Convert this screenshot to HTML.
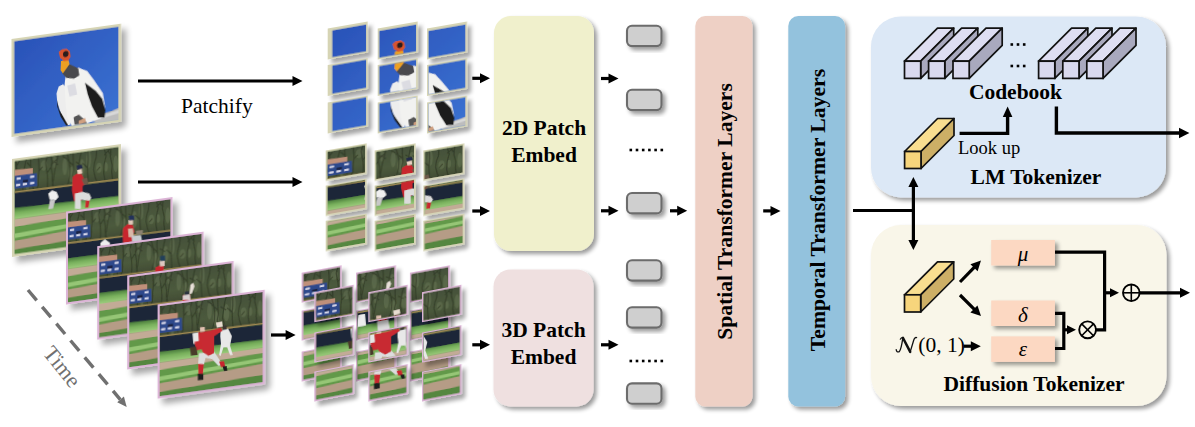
<!DOCTYPE html><html><head><meta charset="utf-8"><style>html,body{margin:0;padding:0;background:#fff;overflow:hidden}svg{display:block}</style></head><body>
<svg width="1195" height="427" viewBox="0 0 1195 427">
<defs>
<filter id="sh" x="-20%" y="-20%" width="150%" height="150%"><feGaussianBlur in="SourceAlpha" stdDeviation="3"/><feOffset dx="5" dy="6"/><feComponentTransfer><feFuncA type="linear" slope="0.35"/></feComponentTransfer><feMerge><feMergeNode/><feMergeNode in="SourceGraphic"/></feMerge></filter>
<filter id="shp" x="-30%" y="-30%" width="170%" height="170%"><feGaussianBlur in="SourceAlpha" stdDeviation="2.2"/><feOffset dx="4" dy="5"/><feComponentTransfer><feFuncA type="linear" slope="0.35"/></feComponentTransfer><feMerge><feMergeNode/><feMergeNode in="SourceGraphic"/></feMerge></filter>
<filter id="shb" x="-20%" y="-20%" width="150%" height="150%"><feGaussianBlur in="SourceAlpha" stdDeviation="2"/><feOffset dx="3" dy="3"/><feComponentTransfer><feFuncA type="linear" slope="0.4"/></feComponentTransfer><feMerge><feMergeNode/><feMergeNode in="SourceGraphic"/></feMerge></filter>
<linearGradient id="sky" x1="0" y1="0" x2="1" y2="1"><stop offset="0" stop-color="#2a52b8"/><stop offset="1" stop-color="#3b72d2"/></linearGradient>
<linearGradient id="trees" x1="0" y1="0" x2="0" y2="1"><stop offset="0" stop-color="#44503a"/><stop offset="0.6" stop-color="#4c5a3c"/><stop offset="1" stop-color="#404a34"/></linearGradient>
<pattern id="treep" patternUnits="userSpaceOnUse" width="33" height="31"><path d="M3 0 Q2 12 5 31 M9 2 Q11 14 8 31 M15 0 L14 13 Q17 22 16 31 M22 0 Q20 16 23 31 M28 3 Q30 15 27 31 M5 10 L9 6 M16 18 L21 12 M26 20 L30 16" stroke="#2c3424" stroke-width="0.8" fill="none" opacity="0.35"/><path d="M6 4 Q7 16 6 28 M19 2 Q18 14 20 26 M31 5 L30 25" stroke="#6e7c5a" stroke-width="1.4" fill="none" opacity="0.3"/></pattern>
<linearGradient id="gstripe" x1="0" y1="0" x2="0" y2="1"><stop offset="0" stop-color="#4a7c3c"/><stop offset="0.45" stop-color="#78b05c"/><stop offset="1" stop-color="#9ccc7c"/></linearGradient>
<filter id="soft" x="-5%" y="-5%" width="110%" height="110%"><feGaussianBlur stdDeviation="0.6"/></filter>
<g id="treeg" filter="url(#soft)"><ellipse cx="4" cy="18.1" rx="2.4" ry="7.0" fill="#6c7a56" opacity="0.45"/><ellipse cx="12.4" cy="23.7" rx="1.7" ry="6.7" fill="#6c7a56" opacity="0.45"/><ellipse cx="18.5" cy="21.0" rx="2.6" ry="4.5" fill="#6c7a56" opacity="0.45"/><ellipse cx="28.2" cy="7.8" rx="3.0" ry="5.0" fill="#6c7a56" opacity="0.45"/><ellipse cx="38.6" cy="5.6" rx="1.8" ry="6.5" fill="#6c7a56" opacity="0.45"/><ellipse cx="48.4" cy="11.5" rx="2.3" ry="8.2" fill="#6c7a56" opacity="0.45"/><ellipse cx="54.7" cy="19.8" rx="2.8" ry="7.3" fill="#6c7a56" opacity="0.45"/><ellipse cx="64.8" cy="15.3" rx="2.7" ry="8.4" fill="#6c7a56" opacity="0.45"/><ellipse cx="71.4" cy="8.0" rx="2.3" ry="8.4" fill="#6c7a56" opacity="0.45"/><ellipse cx="81.3" cy="17.2" rx="2.7" ry="4.7" fill="#6c7a56" opacity="0.45"/><ellipse cx="88.0" cy="17.4" rx="1.7" ry="4.3" fill="#6c7a56" opacity="0.45"/><ellipse cx="97.4" cy="15.6" rx="2.2" ry="7.9" fill="#6c7a56" opacity="0.45"/><path d="M1.471498294499487 0 L2.0 5.6 L2.1 10.9 L0.6 17.4 L-1.1 24.4 L-2.7 30 M1.5 5.5 L4.6 0.8 M11.181676550025161 0 L9.6 7.3 L8.0 14.7 L8.2 20.6 L7.9 26.1 L8.2 30 M11.2 13.0 L7.9 8.3 M15.333574637962723 0 L15.6 7.8 L15.6 15.3 L16.6 22.5 L18.1 29.3 L17.2 30 M15.3 6.9 L12.1 3.0 M23.052175418074665 0 L23.4 6.8 L23.5 12.1 L22.9 17.7 L22.6 26.5 L21.1 30 M23.1 12.9 L27.1 8.9 M31.39912345686028 0 L29.9 5.3 L30.6 11.4 L31.5 16.6 L31.8 22.9 L31.6 30 M31.4 15.5 L34.5 11.1 M35.03192842846687 0 L36.0 5.2 L35.1 10.8 L36.4 17.3 L36.2 22.6 L37.6 29.8 L38.9 30 M35.0 8.5 L41.0 3.4 M41.89466077037187 0 L40.6 5.3 L38.9 13.0 L37.7 21.3 L36.5 27.4 L36.9 30 M41.9 9.1 L36.8 4.6 M50.70137749103084 0 L52.1 5.2 L53.5 13.3 L53.1 21.5 L51.7 28.1 L50.1 30 M50.7 5.1 L46.4 1.7 M56.382825078875925 0 L56.5 7.3 L56.9 16.1 L55.9 21.3 L56.4 27.8 L56.7 30 M56.4 11.6 L50.8 5.6 M64.39114809158879 0 L63.0 5.3 L62.1 11.7 L60.9 20.0 L62.5 25.1 L61.2 30 M64.4 12.7 L59.1 8.8 M70.78434410520582 0 L70.9 8.4 L70.3 17.0 L70.5 22.9 L71.0 29.9 L72.0 30 M70.8 16.1 L65.4 10.7 M79.15102299671908 0 L78.6 7.1 L76.9 12.2 L76.1 18.3 L77.7 26.1 L79.3 30 M79.2 19.8 L82.4 16.5 M86.36433689516468 0 L88.1 6.9 L86.3 14.4 L85.8 23.0 L87.0 30 M86.4 5.9 L91.7 0.7 M92.7988205890378 0 L92.2 8.2 L93.9 16.4 L93.5 22.9 L94.3 30 M92.8 6.7 L89.7 1.9" stroke="#262d1e" stroke-width="1.1" fill="none" opacity="0.55"/></g>
<symbol id="bird" viewBox="0 0 100 88" preserveAspectRatio="none">
<rect width="100" height="88" fill="url(#sky)"/>
<path d="M72.2 82.5 L93.5 79.1 L100.9 77.0 L102.0 92.9 L80.7 90.0 Z" fill="#bdbdbd"/>
<path d="M74 84 L100 79 L100 82 L76 86 Z" fill="#d8d8d8"/>
<path d="M42.8 49.0 L46.7 47.4 L50.9 51.2 L53.1 65.1 L54.1 86.3 L50.9 86.9 L45.6 76.7 L41.4 63.5 L40.7 55.0 Z" fill="#ededed"/>
<path d="M41.4 61.4 L42.8 70.0 L47.7 79.1 L52.0 87.1 L49.9 86.8 L44.6 77.6 L41.4 67.7 Z" fill="#1e1e1e"/>
<path d="M49.9 35.3 L61.6 33.7 L70.1 38.1 L76.4 47.3 L85.0 61.1 L87.1 74.0 L86.0 83.4 L78.6 85.5 L70.1 87.5 L61.6 87.3 L55.2 87.5 L50.9 79.6 L49.2 64.6 L48.4 47.7 Z" fill="#f2f2f0"/>
<path d="M50.9 49.1 L58.4 48.0 L60.5 58.8 L53.1 59.9 Z" fill="#dcdce2"/>
<path d="M57 80 L62 78 L67 83 L70 87.3 L58 87.1 Z" fill="#555"/>

<path d="M67.9 48.7 L78.1 57.7 L84.5 66.3 L87.5 77.3 L86.7 84.1 L80.3 83.6 L74.7 72.3 L70.5 60.2 Z" fill="#1c1c1c"/>
<path d="M45.6 30.5 L53.1 29.0 L61.6 34.3 L62.6 41.2 L57.3 43.6 L49.9 41.6 L46.3 36.9 Z" fill="#4a4a4e"/>
<path d="M45.0 25.1 L52.0 24.6 L53.1 29.0 L49.9 33.2 L46.7 36.9 L44.6 33.5 Z" fill="#eca020"/>
<path d="M42.8 16.4 L45.6 14.1 L50.5 14.3 L53.5 17.2 L54.1 22.2 L52.0 25.5 L47.7 25.5 L44.1 21.8 Z" fill="#d8542e"/>
<ellipse cx="49.5" cy="19" rx="2.6" ry="3" fill="#2a1a1a"/>
<path d="M62 84 L68 82 L69 86 L62 87 Z" fill="#d0a080"/>
</symbol>
<symbol id="bb1" viewBox="0 0 100 88" preserveAspectRatio="none">
<rect width="100" height="88" fill="#55853f"/>
<rect width="100" height="31" fill="url(#trees)"/>
<use href="#treeg"/>
<path d="M0 8.3 L17.6 9.1 L17.6 15.2 L0 14.6 Z" fill="#c0907a"/>
<path d="M0 13.9 L21.6 14.1 L21.9 26.5 L0 26.2 Z" fill="#2f4a8c"/>
<rect x="2" y="16" width="4" height="2" fill="#dde"/><rect x="15" y="16" width="4" height="2" fill="#dde"/>
<rect x="8" y="19" width="5" height="2.5" fill="#1a2040"/>
<rect x="1.5" y="22" width="4" height="2" fill="#dde"/><rect x="8" y="22" width="4" height="2" fill="#dde"/><rect x="15" y="22" width="4" height="2" fill="#dde"/>
<path d="M0 28.7 L100 30.1 L100 31.7 L0 30.3 Z" fill="#a08a52"/>
<path d="M0 30.3 L100 31.7 L100 46.5 L0 44.5 Z" fill="#1e2838"/>
<path d="M0 44.5 L100 46.5 L100 54.3 L0 55 Z" fill="url(#gstripe)"/>
<path d="M0 55 L100 54.3 L100 59.7 L0 62.3 Z" fill="#c2ab96"/>
<path d="M0 62.3 L100 59.7 L100 69.9 L0 75.4 Z" fill="#62994a"/>
<path d="M0 68.7 L100 64 L100 67.5 L0 72.8 Z" fill="#96c676"/>
<path d="M0 75.4 L100 69.9 L100 80.8 L0 83.7 Z" fill="#b59c86"/>
<path d="M0 83.7 L100 80.8 L100 88 L0 88 Z" fill="#558740"/>
<path d="M32.6 35.1 L36.2 32.7 L40.3 34.5 L42.4 39.6 L39.5 42.4 L33.8 40.8 Z" fill="#f0f0f0"/>
<path d="M34.3 40.9 L39.1 42.0 L37.0 50.0 L32.6 49.8 Z" fill="#c8c8c8"/>
<path d="M56.0 22.3 L60.5 19.7 L64.6 21.0 L67.0 26.2 L69.5 30.5 L65.4 32.3 L65.4 39.5 L64.6 45.8 L57.3 45.6 L55.3 35.0 Z" fill="#c8282e"/>
<path d="M58.1 38.5 L65.4 37.9 L71.9 40.4 L73.8 44.6 L71.9 47.6 L67.8 46.2 L63.8 44.9 L63.8 53.6 L58.1 52.9 Z" fill="#dcdcdc"/>
<path d="M68.6 46.3 L72.2 47.1 L71.1 53.8 L67.8 52.9 Z" fill="#c8282e"/>
<path d="M64.6 25.8 L69.9 25.0 L71.1 30.7 L67.0 31.7 Z" fill="#6a5a48"/>
<path d="M60.2 16.1 L64.6 15.8 L65.1 20.3 L60.9 20.5 Z" fill="#e8d0c0"/>
<path d="M59.7 12.4 L64.6 12.0 L65.7 15.6 L60.5 16.5 Z" fill="#222a48"/>
</symbol>
<symbol id="bb2" viewBox="0 0 100 88" preserveAspectRatio="none">
<rect width="100" height="88" fill="#55853f"/>
<rect width="100" height="31" fill="url(#trees)"/>
<use href="#treeg"/>
<path d="M0 8.3 L17.6 9.1 L17.6 15.2 L0 14.6 Z" fill="#c0907a"/>
<path d="M0 13.9 L21.6 14.1 L21.9 26.5 L0 26.2 Z" fill="#2f4a8c"/>
<rect x="2" y="16" width="4" height="2" fill="#dde"/><rect x="15" y="16" width="4" height="2" fill="#dde"/>
<rect x="8" y="19" width="5" height="2.5" fill="#1a2040"/>
<rect x="1.5" y="22" width="4" height="2" fill="#dde"/><rect x="8" y="22" width="4" height="2" fill="#dde"/><rect x="15" y="22" width="4" height="2" fill="#dde"/>
<path d="M0 28.7 L100 30.1 L100 31.7 L0 30.3 Z" fill="#a08a52"/>
<path d="M0 30.3 L100 31.7 L100 46.5 L0 44.5 Z" fill="#1e2838"/>
<path d="M0 44.5 L100 46.5 L100 54.3 L0 55 Z" fill="url(#gstripe)"/>
<path d="M0 55 L100 54.3 L100 59.7 L0 62.3 Z" fill="#c2ab96"/>
<path d="M0 62.3 L100 59.7 L100 69.9 L0 75.4 Z" fill="#62994a"/>
<path d="M0 68.7 L100 64 L100 67.5 L0 72.8 Z" fill="#96c676"/>
<path d="M0 75.4 L100 69.9 L100 80.8 L0 83.7 Z" fill="#b59c86"/>
<path d="M0 83.7 L100 80.8 L100 88 L0 88 Z" fill="#558740"/>
<path d="M31.9 33.5 L36.0 30.6 L40.8 34.8 L40.8 38.2 L31.9 37.0 Z" fill="#eeeeee"/>
<path d="M53.8 22.0 L58.6 18.5 L63.4 20.5 L64.8 27.0 L62.7 32.3 L64.1 36.6 L53.8 37.3 L53.4 29.6 Z" fill="#c8282e"/>
<path d="M58.6 23.3 L63.4 24.0 L64.1 32.4 L59.3 31.8 Z" fill="#d8b8a8"/>
<path d="M66.2 26.5 L73.0 26.7 L73.0 30.9 L66.6 30.3 Z" fill="#8a8070"/>
<path d="M62.0 30.8 L71.0 31.3 L72.3 37.7 L62.7 37.1 Z" fill="#c8ccd0"/>
<path d="M58.9 14.8 L63.4 15.0 L63.4 19.8 L59.3 19.6 Z" fill="#e0c8b8"/>
<path d="M59.3 10.9 L64.1 10.9 L64.8 15.6 L59.7 15.4 Z" fill="#23305a"/>
<path d="M55 37 L63 37 L62 50 L56 50 Z" fill="#d0d0d0"/>
</symbol>
<symbol id="bb3" viewBox="0 0 100 88" preserveAspectRatio="none">
<rect width="100" height="88" fill="#55853f"/>
<rect width="100" height="31" fill="url(#trees)"/>
<use href="#treeg"/>
<path d="M0 8.3 L17.6 9.1 L17.6 15.2 L0 14.6 Z" fill="#c0907a"/>
<path d="M0 13.9 L21.6 14.1 L21.9 26.5 L0 26.2 Z" fill="#2f4a8c"/>
<rect x="2" y="16" width="4" height="2" fill="#dde"/><rect x="15" y="16" width="4" height="2" fill="#dde"/>
<rect x="8" y="19" width="5" height="2.5" fill="#1a2040"/>
<rect x="1.5" y="22" width="4" height="2" fill="#dde"/><rect x="8" y="22" width="4" height="2" fill="#dde"/><rect x="15" y="22" width="4" height="2" fill="#dde"/>
<path d="M0 28.7 L100 30.1 L100 31.7 L0 30.3 Z" fill="#a08a52"/>
<path d="M0 30.3 L100 31.7 L100 46.5 L0 44.5 Z" fill="#1e2838"/>
<path d="M0 44.5 L100 46.5 L100 54.3 L0 55 Z" fill="url(#gstripe)"/>
<path d="M0 55 L100 54.3 L100 59.7 L0 62.3 Z" fill="#c2ab96"/>
<path d="M0 62.3 L100 59.7 L100 69.9 L0 75.4 Z" fill="#62994a"/>
<path d="M0 68.7 L100 64 L100 67.5 L0 72.8 Z" fill="#96c676"/>
<path d="M0 75.4 L100 69.9 L100 80.8 L0 83.7 Z" fill="#b59c86"/>
<path d="M0 83.7 L100 80.8 L100 88 L0 88 Z" fill="#558740"/>
<path d="M54.9 26.7 L59.0 25.2 L63.1 26.1 L62.8 31.3 L64 42 L55 42 L54.6 30.8 Z" fill="#c8282e"/>
<path d="M59.0 20.8 L63.8 21.0 L63.8 26.6 L59.3 26.4 Z" fill="#dcc8c0"/>
<path d="M59.3 16.3 L64.2 16.3 L64.5 21.5 L59.7 21.2 Z" fill="#24405a"/>
<path d="M55 42 L65 42 L66 55 L56 55 Z" fill="#d8d8d8"/>
<path d="M33 32 L39 32 L39 44 L33 44 Z" fill="#e8e8e8"/>
</symbol>
<symbol id="bb4" viewBox="0 0 100 88" preserveAspectRatio="none">
<rect width="100" height="88" fill="#55853f"/>
<rect width="100" height="31" fill="url(#trees)"/>
<use href="#treeg"/>
<path d="M0 8.3 L17.6 9.1 L17.6 15.2 L0 14.6 Z" fill="#c0907a"/>
<path d="M0 13.9 L21.6 14.1 L21.9 26.5 L0 26.2 Z" fill="#2f4a8c"/>
<rect x="2" y="16" width="4" height="2" fill="#dde"/><rect x="15" y="16" width="4" height="2" fill="#dde"/>
<rect x="8" y="19" width="5" height="2.5" fill="#1a2040"/>
<rect x="1.5" y="22" width="4" height="2" fill="#dde"/><rect x="8" y="22" width="4" height="2" fill="#dde"/><rect x="15" y="22" width="4" height="2" fill="#dde"/>
<path d="M0 28.7 L100 30.1 L100 31.7 L0 30.3 Z" fill="#a08a52"/>
<path d="M0 30.3 L100 31.7 L100 46.5 L0 44.5 Z" fill="#1e2838"/>
<path d="M0 44.5 L100 46.5 L100 54.3 L0 55 Z" fill="url(#gstripe)"/>
<path d="M0 55 L100 54.3 L100 59.7 L0 62.3 Z" fill="#c2ab96"/>
<path d="M0 62.3 L100 59.7 L100 69.9 L0 75.4 Z" fill="#62994a"/>
<path d="M0 68.7 L100 64 L100 67.5 L0 72.8 Z" fill="#96c676"/>
<path d="M0 75.4 L100 69.9 L100 80.8 L0 83.7 Z" fill="#b59c86"/>
<path d="M0 83.7 L100 80.8 L100 88 L0 88 Z" fill="#558740"/>
<path d="M59.9 15.5 L62.6 14.1 L63.7 17.7 L61.2 24.2 L58.8 24.5 Z" fill="#e8e0d8"/>
<path d="M52.3 25.0 L59.2 24.6 L60 44 L52 44 Z" fill="#c8282e"/>
<path d="M54.1 21.8 L58.2 21.7 L58.5 25.5 L54.4 25.5 Z" fill="#2a3040"/>
<path d="M52.3 25.0 L59.2 24.6 L59.9 30.5 L52.3 29.4 Z" fill="#d8d0d0"/>
<path d="M51 44 L61 44 L63 58 L52 58 Z" fill="#dcdcdc"/>
<path d="M34 33 L40 33 L41 46 L33 46 Z" fill="#ececec"/>
</symbol>
<symbol id="bb5" viewBox="0 0 100 88" preserveAspectRatio="none">
<rect width="100" height="88" fill="#55853f"/>
<rect width="100" height="31" fill="url(#trees)"/>
<use href="#treeg"/>
<path d="M0 8.3 L17.6 9.1 L17.6 15.2 L0 14.6 Z" fill="#c0907a"/>
<path d="M0 13.9 L21.6 14.1 L21.9 26.5 L0 26.2 Z" fill="#2f4a8c"/>
<rect x="2" y="16" width="4" height="2" fill="#dde"/><rect x="15" y="16" width="4" height="2" fill="#dde"/>
<rect x="8" y="19" width="5" height="2.5" fill="#1a2040"/>
<rect x="1.5" y="22" width="4" height="2" fill="#dde"/><rect x="8" y="22" width="4" height="2" fill="#dde"/><rect x="15" y="22" width="4" height="2" fill="#dde"/>
<path d="M0 28.7 L100 30.1 L100 31.7 L0 30.3 Z" fill="#a08a52"/>
<path d="M0 30.3 L100 31.7 L100 46.5 L0 44.5 Z" fill="#1e2838"/>
<path d="M0 44.5 L100 46.5 L100 54.3 L0 55 Z" fill="url(#gstripe)"/>
<path d="M0 55 L100 54.3 L100 59.7 L0 62.3 Z" fill="#c2ab96"/>
<path d="M0 62.3 L100 59.7 L100 69.9 L0 75.4 Z" fill="#62994a"/>
<path d="M0 68.7 L100 64 L100 67.5 L0 72.8 Z" fill="#96c676"/>
<path d="M0 75.4 L100 69.9 L100 80.8 L0 83.7 Z" fill="#b59c86"/>
<path d="M0 83.7 L100 80.8 L100 88 L0 88 Z" fill="#558740"/>
<path d="M31.9 31.0 L38.2 30.6 L39.5 36.6 L37.3 42.7 L32.8 41.2 Z" fill="#e6e6e6"/>
<path d="M59.1 32.0 L66.4 31.2 L70.0 39.0 L68.2 47.9 L70.9 57.4 L68.2 57.0 L65.5 49.3 L61.9 48.8 L59.1 56.7 L57.7 55.6 L59.5 44.9 L58.8 37.5 Z" fill="#e8e8e8"/>
<path d="M61.0 27.7 L64.6 27.7 L65.0 31.4 L61.3 31.4 Z" fill="#3a3430"/>
<path d="M38.2 51.1 L52.8 51.6 L59.1 62.2 L61.3 65.6 L57.0 66.1 L51.0 58.7 L44.6 56.5 L42.8 63.0 L37.3 62.3 Z" fill="#dddddd"/>
<path d="M37.3 61.5 L42.8 62.3 L41.9 72.0 L37.7 71.5 Z" fill="#c8282e"/>
<path d="M37.0 71.0 L42.4 71.8 L42.4 77.6 L37.0 77.4 Z" fill="#1e1e1e"/>
<path d="M57.7 62.0 L62.4 62.1 L63.7 68.3 L59.5 67.7 Z" fill="#c8282e"/>
<path d="M61.0 67.0 L65.0 67.2 L65.7 72.2 L62.4 71.8 Z" fill="#1e1e1e"/>
<path d="M37.3 30.8 L49.1 30.6 L59.1 29.3 L61.0 32.3 L52.8 36.6 L52.8 53.1 L47.3 55.1 L41.9 50.7 L38.2 41.9 Z" fill="#c82a30"/>
<path d="M33.7 39.5 L39.1 39.3 L41.0 47.8 L35.5 48.0 Z" fill="#c82a30"/>
<path d="M29.2 44.3 L35.5 44.3 L37.0 52.7 L30.4 52.7 Z" fill="#4a3a2c"/>
<path d="M39.1 26.0 L43.7 26.2 L43.9 30.8 L39.5 30.8 Z" fill="#e0c0b0"/>
<path d="M54.6 23.7 L60.6 23.5 L61.3 28.3 L55.5 28.8 Z" fill="#e8dcd0"/>
</symbol>
</defs>
<g transform="matrix(1 -0.14 0 1 11.5 39)" filter="url(#sh)">
<rect width="109.5" height="98" fill="#d6d4b4"/>
<svg x="2.5" y="2.5" width="104.5" height="93.0" viewBox="0 0 100 88" preserveAspectRatio="none"><use href="#bird" width="100" height="88"/></svg>
</g>
<g transform="matrix(1 -0.137 0 1 12 159)" filter="url(#sh)">
<rect width="109" height="98" fill="#d6d4b4"/>
<svg x="2.5" y="2.5" width="104.0" height="93.0" viewBox="0 0 100 88" preserveAspectRatio="none"><use href="#bb1" width="100" height="88"/></svg>
</g>
<g transform="matrix(1 -0.137 0 1 66 211.6)" filter="url(#sh)">
<rect width="106.5" height="93" fill="#dcb4d6"/>
<svg x="2" y="2" width="102.5" height="89" viewBox="0 0 100 88" preserveAspectRatio="none"><use href="#bb2" width="100" height="88"/></svg>
</g>
<g transform="matrix(1 -0.137 0 1 97.2 246.2)" filter="url(#sh)">
<rect width="106.5" height="93.5" fill="#dcb4d6"/>
<svg x="2" y="2" width="102.5" height="89.5" viewBox="0 0 100 88" preserveAspectRatio="none"><use href="#bb3" width="100" height="88"/></svg>
</g>
<g transform="matrix(1 -0.137 0 1 127.2 275.5)" filter="url(#sh)">
<rect width="106.5" height="94" fill="#dcb4d6"/>
<svg x="2" y="2" width="102.5" height="90" viewBox="0 0 100 88" preserveAspectRatio="none"><use href="#bb4" width="100" height="88"/></svg>
</g>
<g transform="matrix(1 -0.137 0 1 157.6 304.4)" filter="url(#sh)">
<rect width="107.2" height="94.3" fill="#dcb4d6"/>
<svg x="2" y="2" width="103.2" height="90.3" viewBox="0 0 100 88" preserveAspectRatio="none"><use href="#bb5" width="100" height="88"/></svg>
</g>
<line x1="28" y1="290" x2="120.3" y2="399.6" stroke="#707070" stroke-width="3.4" stroke-dasharray="13.5 8.5"/>
<polygon points="126.7,407 117.2,402.2 123.9,396.6" fill="#707070"/>
<text x="0" y="0" transform="translate(42,353.5) rotate(51)" font-family='"Liberation Serif", serif' font-size="22" fill="#707070">Time</text>
<line x1="138" y1="81" x2="293.5" y2="81" stroke="#000" stroke-width="3.2"/>
<polygon points="302.5,81 292.5,76.0 292.5,86.0" fill="#000"/>
<text x="181" y="113" font-family='"Liberation Serif", serif' font-size="21.5">Patchify</text>
<line x1="138" y1="182" x2="293.5" y2="182" stroke="#000" stroke-width="3.2"/>
<polygon points="302.5,182 292.5,177.0 292.5,187.0" fill="#000"/>
<line x1="271" y1="335" x2="286.6" y2="335" stroke="#000" stroke-width="3.2"/>
<polygon points="295.6,335 285.6,330.0 285.6,340.0" fill="#000"/>
<g transform="matrix(1 -0.175 0 1 327.7 28.5)" filter="url(#shp)">
<rect width="40" height="31" fill="#d6d4b4"/>
<svg x="1.6" y="1.6" width="36.8" height="27.8" viewBox="-2.500 -1.000 33.333 29.333" preserveAspectRatio="none"><use href="#bird" width="100" height="88"/></svg>
</g>
<g transform="matrix(1 -0.175 0 1 377.7 28.5)" filter="url(#shp)">
<rect width="40" height="31" fill="#d6d4b4"/>
<svg x="1.6" y="1.6" width="36.8" height="27.8" viewBox="30.833 -1.000 33.333 29.333" preserveAspectRatio="none"><use href="#bird" width="100" height="88"/></svg>
</g>
<g transform="matrix(1 -0.175 0 1 427.0 28.5)" filter="url(#shp)">
<rect width="40" height="31" fill="#d6d4b4"/>
<svg x="1.6" y="1.6" width="36.8" height="27.8" viewBox="64.167 -1.000 33.333 29.333" preserveAspectRatio="none"><use href="#bird" width="100" height="88"/></svg>
</g>
<g transform="matrix(1 -0.175 0 1 327.7 65.0)" filter="url(#shp)">
<rect width="40" height="31" fill="#d6d4b4"/>
<svg x="1.6" y="1.6" width="36.8" height="27.8" viewBox="-2.500 28.333 33.333 29.333" preserveAspectRatio="none"><use href="#bird" width="100" height="88"/></svg>
</g>
<g transform="matrix(1 -0.175 0 1 377.7 65.0)" filter="url(#shp)">
<rect width="40" height="31" fill="#d6d4b4"/>
<svg x="1.6" y="1.6" width="36.8" height="27.8" viewBox="30.833 28.333 33.333 29.333" preserveAspectRatio="none"><use href="#bird" width="100" height="88"/></svg>
</g>
<g transform="matrix(1 -0.175 0 1 427.0 65.0)" filter="url(#shp)">
<rect width="40" height="31" fill="#d6d4b4"/>
<svg x="1.6" y="1.6" width="36.8" height="27.8" viewBox="64.167 28.333 33.333 29.333" preserveAspectRatio="none"><use href="#bird" width="100" height="88"/></svg>
</g>
<g transform="matrix(1 -0.175 0 1 327.7 102.5)" filter="url(#shp)">
<rect width="40" height="31" fill="#d6d4b4"/>
<svg x="1.6" y="1.6" width="36.8" height="27.8" viewBox="-2.500 57.667 33.333 29.333" preserveAspectRatio="none"><use href="#bird" width="100" height="88"/></svg>
</g>
<g transform="matrix(1 -0.175 0 1 377.7 102.5)" filter="url(#shp)">
<rect width="40" height="31" fill="#d6d4b4"/>
<svg x="1.6" y="1.6" width="36.8" height="27.8" viewBox="30.833 57.667 33.333 29.333" preserveAspectRatio="none"><use href="#bird" width="100" height="88"/></svg>
</g>
<g transform="matrix(1 -0.175 0 1 427.0 102.5)" filter="url(#shp)">
<rect width="40" height="31" fill="#d6d4b4"/>
<svg x="1.6" y="1.6" width="36.8" height="27.8" viewBox="64.167 57.667 33.333 29.333" preserveAspectRatio="none"><use href="#bird" width="100" height="88"/></svg>
</g>
<g transform="matrix(1 -0.175 0 1 325.7 150.5)" filter="url(#shp)">
<rect width="41" height="30.5" fill="#d6d4b4"/>
<svg x="1.6" y="1.6" width="37.8" height="27.3" viewBox="0.000 0.000 33.333 29.333" preserveAspectRatio="none"><use href="#bb1" width="100" height="88"/></svg>
</g>
<g transform="matrix(1 -0.175 0 1 374.6 150.5)" filter="url(#shp)">
<rect width="41" height="30.5" fill="#d6d4b4"/>
<svg x="1.6" y="1.6" width="37.8" height="27.3" viewBox="33.333 0.000 33.333 29.333" preserveAspectRatio="none"><use href="#bb1" width="100" height="88"/></svg>
</g>
<g transform="matrix(1 -0.175 0 1 423.3 150.5)" filter="url(#shp)">
<rect width="41" height="30.5" fill="#d6d4b4"/>
<svg x="1.6" y="1.6" width="37.8" height="27.3" viewBox="66.667 0.000 33.333 29.333" preserveAspectRatio="none"><use href="#bb1" width="100" height="88"/></svg>
</g>
<g transform="matrix(1 -0.175 0 1 325.7 185.6)" filter="url(#shp)">
<rect width="41" height="30.5" fill="#d6d4b4"/>
<svg x="1.6" y="1.6" width="37.8" height="27.3" viewBox="0.000 29.333 33.333 29.333" preserveAspectRatio="none"><use href="#bb1" width="100" height="88"/></svg>
</g>
<g transform="matrix(1 -0.175 0 1 374.6 185.6)" filter="url(#shp)">
<rect width="41" height="30.5" fill="#d6d4b4"/>
<svg x="1.6" y="1.6" width="37.8" height="27.3" viewBox="33.333 29.333 33.333 29.333" preserveAspectRatio="none"><use href="#bb1" width="100" height="88"/></svg>
</g>
<g transform="matrix(1 -0.175 0 1 423.3 185.6)" filter="url(#shp)">
<rect width="41" height="30.5" fill="#d6d4b4"/>
<svg x="1.6" y="1.6" width="37.8" height="27.3" viewBox="66.667 29.333 33.333 29.333" preserveAspectRatio="none"><use href="#bb1" width="100" height="88"/></svg>
</g>
<g transform="matrix(1 -0.175 0 1 325.7 220.8)" filter="url(#shp)">
<rect width="41" height="30.5" fill="#d6d4b4"/>
<svg x="1.6" y="1.6" width="37.8" height="27.3" viewBox="0.000 58.667 33.333 29.333" preserveAspectRatio="none"><use href="#bb1" width="100" height="88"/></svg>
</g>
<g transform="matrix(1 -0.175 0 1 374.6 220.8)" filter="url(#shp)">
<rect width="41" height="30.5" fill="#d6d4b4"/>
<svg x="1.6" y="1.6" width="37.8" height="27.3" viewBox="33.333 58.667 33.333 29.333" preserveAspectRatio="none"><use href="#bb1" width="100" height="88"/></svg>
</g>
<g transform="matrix(1 -0.175 0 1 423.3 220.8)" filter="url(#shp)">
<rect width="41" height="30.5" fill="#d6d4b4"/>
<svg x="1.6" y="1.6" width="37.8" height="27.3" viewBox="66.667 58.667 33.333 29.333" preserveAspectRatio="none"><use href="#bb1" width="100" height="88"/></svg>
</g>
<g transform="matrix(1 -0.186 0 1 301.6 272.7)" filter="url(#shp)">
<rect width="40" height="30" fill="#dcb4d6"/>
<svg x="1.6" y="1.6" width="36.8" height="26.8" viewBox="0.000 0.000 33.333 29.333" preserveAspectRatio="none"><use href="#bb4" width="100" height="88"/></svg>
</g>
<g transform="matrix(1 -0.186 0 1 356.0 272.7)" filter="url(#shp)">
<rect width="40" height="30" fill="#dcb4d6"/>
<svg x="1.6" y="1.6" width="36.8" height="26.8" viewBox="33.333 0.000 33.333 29.333" preserveAspectRatio="none"><use href="#bb4" width="100" height="88"/></svg>
</g>
<g transform="matrix(1 -0.186 0 1 409.9 272.7)" filter="url(#shp)">
<rect width="40" height="30" fill="#dcb4d6"/>
<svg x="1.6" y="1.6" width="36.8" height="26.8" viewBox="66.667 0.000 33.333 29.333" preserveAspectRatio="none"><use href="#bb4" width="100" height="88"/></svg>
</g>
<g transform="matrix(1 -0.186 0 1 301.6 310.6)" filter="url(#shp)">
<rect width="40" height="30" fill="#dcb4d6"/>
<svg x="1.6" y="1.6" width="36.8" height="26.8" viewBox="0.000 29.333 33.333 29.333" preserveAspectRatio="none"><use href="#bb4" width="100" height="88"/></svg>
</g>
<g transform="matrix(1 -0.186 0 1 356.0 310.6)" filter="url(#shp)">
<rect width="40" height="30" fill="#dcb4d6"/>
<svg x="1.6" y="1.6" width="36.8" height="26.8" viewBox="33.333 29.333 33.333 29.333" preserveAspectRatio="none"><use href="#bb4" width="100" height="88"/></svg>
</g>
<g transform="matrix(1 -0.186 0 1 409.9 310.6)" filter="url(#shp)">
<rect width="40" height="30" fill="#dcb4d6"/>
<svg x="1.6" y="1.6" width="36.8" height="26.8" viewBox="66.667 29.333 33.333 29.333" preserveAspectRatio="none"><use href="#bb4" width="100" height="88"/></svg>
</g>
<g transform="matrix(1 -0.186 0 1 301.6 351.6)" filter="url(#shp)">
<rect width="40" height="30" fill="#dcb4d6"/>
<svg x="1.6" y="1.6" width="36.8" height="26.8" viewBox="0.000 58.667 33.333 29.333" preserveAspectRatio="none"><use href="#bb4" width="100" height="88"/></svg>
</g>
<g transform="matrix(1 -0.186 0 1 356.0 351.6)" filter="url(#shp)">
<rect width="40" height="30" fill="#dcb4d6"/>
<svg x="1.6" y="1.6" width="36.8" height="26.8" viewBox="33.333 58.667 33.333 29.333" preserveAspectRatio="none"><use href="#bb4" width="100" height="88"/></svg>
</g>
<g transform="matrix(1 -0.186 0 1 409.9 351.6)" filter="url(#shp)">
<rect width="40" height="30" fill="#dcb4d6"/>
<svg x="1.6" y="1.6" width="36.8" height="26.8" viewBox="66.667 58.667 33.333 29.333" preserveAspectRatio="none"><use href="#bb4" width="100" height="88"/></svg>
</g>
<g transform="matrix(1 -0.19 0 1 314.3 292.2)" filter="url(#shp)">
<rect width="39.5" height="30" fill="#dcb4d6"/>
<svg x="1.6" y="1.6" width="36.3" height="26.8" viewBox="0.000 0.000 33.333 29.333" preserveAspectRatio="none"><use href="#bb5" width="100" height="88"/></svg>
</g>
<g transform="matrix(1 -0.19 0 1 368.3 292.2)" filter="url(#shp)">
<rect width="39.5" height="30" fill="#dcb4d6"/>
<svg x="1.6" y="1.6" width="36.3" height="26.8" viewBox="33.333 0.000 33.333 29.333" preserveAspectRatio="none"><use href="#bb5" width="100" height="88"/></svg>
</g>
<g transform="matrix(1 -0.19 0 1 422.0 292.2)" filter="url(#shp)">
<rect width="39.5" height="30" fill="#dcb4d6"/>
<svg x="1.6" y="1.6" width="36.3" height="26.8" viewBox="66.667 0.000 33.333 29.333" preserveAspectRatio="none"><use href="#bb5" width="100" height="88"/></svg>
</g>
<g transform="matrix(1 -0.19 0 1 314.3 332.6)" filter="url(#shp)">
<rect width="39.5" height="30" fill="#dcb4d6"/>
<svg x="1.6" y="1.6" width="36.3" height="26.8" viewBox="0.000 29.333 33.333 29.333" preserveAspectRatio="none"><use href="#bb5" width="100" height="88"/></svg>
</g>
<g transform="matrix(1 -0.19 0 1 368.3 332.6)" filter="url(#shp)">
<rect width="39.5" height="30" fill="#dcb4d6"/>
<svg x="1.6" y="1.6" width="36.3" height="26.8" viewBox="33.333 29.333 33.333 29.333" preserveAspectRatio="none"><use href="#bb5" width="100" height="88"/></svg>
</g>
<g transform="matrix(1 -0.19 0 1 422.0 332.6)" filter="url(#shp)">
<rect width="39.5" height="30" fill="#dcb4d6"/>
<svg x="1.6" y="1.6" width="36.3" height="26.8" viewBox="66.667 29.333 33.333 29.333" preserveAspectRatio="none"><use href="#bb5" width="100" height="88"/></svg>
</g>
<g transform="matrix(1 -0.19 0 1 314.3 371.6)" filter="url(#shp)">
<rect width="39.5" height="30" fill="#dcb4d6"/>
<svg x="1.6" y="1.6" width="36.3" height="26.8" viewBox="0.000 58.667 33.333 29.333" preserveAspectRatio="none"><use href="#bb5" width="100" height="88"/></svg>
</g>
<g transform="matrix(1 -0.19 0 1 368.3 371.6)" filter="url(#shp)">
<rect width="39.5" height="30" fill="#dcb4d6"/>
<svg x="1.6" y="1.6" width="36.3" height="26.8" viewBox="33.333 58.667 33.333 29.333" preserveAspectRatio="none"><use href="#bb5" width="100" height="88"/></svg>
</g>
<g transform="matrix(1 -0.19 0 1 422.0 371.6)" filter="url(#shp)">
<rect width="39.5" height="30" fill="#dcb4d6"/>
<svg x="1.6" y="1.6" width="36.3" height="26.8" viewBox="66.667 58.667 33.333 29.333" preserveAspectRatio="none"><use href="#bb5" width="100" height="88"/></svg>
</g>
<line x1="472.3" y1="78.3" x2="481" y2="78.3" stroke="#000" stroke-width="3.2"/>
<polygon points="490,78.3 480,73.3 480,83.3" fill="#000"/>
<line x1="472.3" y1="211" x2="481" y2="211" stroke="#000" stroke-width="3.2"/>
<polygon points="490,211 480,206.0 480,216.0" fill="#000"/>
<line x1="472.3" y1="344.8" x2="481" y2="344.8" stroke="#000" stroke-width="3.2"/>
<polygon points="490,344.8 480,339.8 480,349.8" fill="#000"/>
<rect x="494" y="16" width="100" height="235" rx="17" fill="#f0f0cc" filter="url(#shb)"/>
<rect x="493.5" y="269.4" width="100" height="137" rx="17" fill="#efe0e0" filter="url(#shb)"/>
<text x="544" y="134.7" text-anchor="middle" font-family='"Liberation Serif", serif' font-weight="bold" font-size="21.5">2D Patch</text>
<text x="544" y="162" text-anchor="middle" font-family='"Liberation Serif", serif' font-weight="bold" font-size="21.5">Embed</text>
<text x="543.5" y="336.8" text-anchor="middle" font-family='"Liberation Serif", serif' font-weight="bold" font-size="21.5">3D Patch</text>
<text x="543.5" y="364" text-anchor="middle" font-family='"Liberation Serif", serif' font-weight="bold" font-size="21.5">Embed</text>
<line x1="601" y1="78.5" x2="609.5" y2="78.5" stroke="#000" stroke-width="3.2"/>
<polygon points="618.5,78.5 608.5,73.5 608.5,83.5" fill="#000"/>
<line x1="601" y1="210.8" x2="609.5" y2="210.8" stroke="#000" stroke-width="3.2"/>
<polygon points="618.5,210.8 608.5,205.8 608.5,215.8" fill="#000"/>
<line x1="601" y1="344.8" x2="609.5" y2="344.8" stroke="#000" stroke-width="3.2"/>
<polygon points="618.5,344.8 608.5,339.8 608.5,349.8" fill="#000"/>
<rect x="627" y="25.7" width="34.5" height="20.4" rx="5" fill="#cfcfcf" stroke="#6c6c6c" stroke-width="2.1" filter="url(#shb)"/>
<rect x="627" y="89.7" width="34.5" height="20.4" rx="5" fill="#cfcfcf" stroke="#6c6c6c" stroke-width="2.1" filter="url(#shb)"/>
<rect x="627" y="193.0" width="34.5" height="20.4" rx="5" fill="#cfcfcf" stroke="#6c6c6c" stroke-width="2.1" filter="url(#shb)"/>
<rect x="627" y="260.2" width="34.5" height="20.4" rx="5" fill="#cfcfcf" stroke="#6c6c6c" stroke-width="2.1" filter="url(#shb)"/>
<rect x="627" y="307.2" width="34.5" height="20.4" rx="5" fill="#cfcfcf" stroke="#6c6c6c" stroke-width="2.1" filter="url(#shb)"/>
<rect x="627" y="383.4" width="34.5" height="20.4" rx="5" fill="#cfcfcf" stroke="#6c6c6c" stroke-width="2.1" filter="url(#shb)"/>
<rect x="629.5" y="148.7" width="2.6" height="2.6" fill="#000"/>
<rect x="635.7" y="148.7" width="2.6" height="2.6" fill="#000"/>
<rect x="641.9" y="148.7" width="2.6" height="2.6" fill="#000"/>
<rect x="648.1" y="148.7" width="2.6" height="2.6" fill="#000"/>
<rect x="654.3" y="148.7" width="2.6" height="2.6" fill="#000"/>
<rect x="660.5" y="148.7" width="2.6" height="2.6" fill="#000"/>
<rect x="629.5" y="359.7" width="2.6" height="2.6" fill="#000"/>
<rect x="635.7" y="359.7" width="2.6" height="2.6" fill="#000"/>
<rect x="641.9" y="359.7" width="2.6" height="2.6" fill="#000"/>
<rect x="648.1" y="359.7" width="2.6" height="2.6" fill="#000"/>
<rect x="654.3" y="359.7" width="2.6" height="2.6" fill="#000"/>
<rect x="660.5" y="359.7" width="2.6" height="2.6" fill="#000"/>
<line x1="670" y1="210.8" x2="678.2" y2="210.8" stroke="#000" stroke-width="3.2"/>
<polygon points="687.2,210.8 677.2,205.8 677.2,215.8" fill="#000"/>
<rect x="695.3" y="16" width="57.2" height="390.5" rx="10" fill="#eed0c5" filter="url(#shb)"/>
<rect x="788.3" y="16" width="56.8" height="390.5" rx="10" fill="#93c2dd" filter="url(#shb)"/>
<text x="0" y="0" transform="translate(731.5,211.5) rotate(-90)" text-anchor="middle" font-family='"Liberation Serif", serif' font-weight="bold" font-size="21.6">Spatial Transformer Layers</text>
<text x="0" y="0" transform="translate(825,210) rotate(-90)" text-anchor="middle" font-family='"Liberation Serif", serif' font-weight="bold" font-size="21.7">Temporal Transformer Layers</text>
<line x1="763.2" y1="210.9" x2="771.5" y2="210.9" stroke="#000" stroke-width="3.2"/>
<polygon points="780.5,210.9 770.5,205.9 770.5,215.9" fill="#000"/>
<rect x="871" y="16.4" width="295" height="181" rx="30" fill="#dce8f6" filter="url(#shb)"/>
<polygon points="904.5,61.2 937.5,28.200000000000003 953.7,28.200000000000003 920.7,61.2" fill="#dedef2" stroke="#111" stroke-width="1.7" stroke-linejoin="round"/>
<polygon points="920.7,61.2 953.7,28.200000000000003 953.7,45.400000000000006 920.7,78.4" fill="#a9a9be" stroke="#111" stroke-width="1.7" stroke-linejoin="round"/>
<rect x="904.5" y="61.2" width="16.2" height="17.2" fill="#d9d9ee" stroke="#111" stroke-width="1.7"/>
<polygon points="928.6,61.2 961.6,28.200000000000003 977.8000000000001,28.200000000000003 944.8000000000001,61.2" fill="#dedef2" stroke="#111" stroke-width="1.7" stroke-linejoin="round"/>
<polygon points="944.8000000000001,61.2 977.8000000000001,28.200000000000003 977.8000000000001,45.400000000000006 944.8000000000001,78.4" fill="#a9a9be" stroke="#111" stroke-width="1.7" stroke-linejoin="round"/>
<rect x="928.6" y="61.2" width="16.2" height="17.2" fill="#d9d9ee" stroke="#111" stroke-width="1.7"/>
<polygon points="953.0,61.2 986.0,28.200000000000003 1002.2,28.200000000000003 969.2,61.2" fill="#dedef2" stroke="#111" stroke-width="1.7" stroke-linejoin="round"/>
<polygon points="969.2,61.2 1002.2,28.200000000000003 1002.2,45.400000000000006 969.2,78.4" fill="#a9a9be" stroke="#111" stroke-width="1.7" stroke-linejoin="round"/>
<rect x="953.0" y="61.2" width="16.2" height="17.2" fill="#d9d9ee" stroke="#111" stroke-width="1.7"/>
<polygon points="1038.6,61.2 1071.6,28.200000000000003 1087.8,28.200000000000003 1054.8,61.2" fill="#dedef2" stroke="#111" stroke-width="1.7" stroke-linejoin="round"/>
<polygon points="1054.8,61.2 1087.8,28.200000000000003 1087.8,45.400000000000006 1054.8,78.4" fill="#a9a9be" stroke="#111" stroke-width="1.7" stroke-linejoin="round"/>
<rect x="1038.6" y="61.2" width="16.2" height="17.2" fill="#d9d9ee" stroke="#111" stroke-width="1.7"/>
<polygon points="1062.8,61.2 1095.8,28.200000000000003 1112.0,28.200000000000003 1079.0,61.2" fill="#dedef2" stroke="#111" stroke-width="1.7" stroke-linejoin="round"/>
<polygon points="1079.0,61.2 1112.0,28.200000000000003 1112.0,45.400000000000006 1079.0,78.4" fill="#a9a9be" stroke="#111" stroke-width="1.7" stroke-linejoin="round"/>
<rect x="1062.8" y="61.2" width="16.2" height="17.2" fill="#d9d9ee" stroke="#111" stroke-width="1.7"/>
<polygon points="1086.8,61.2 1119.8,28.200000000000003 1136.0,28.200000000000003 1103.0,61.2" fill="#dedef2" stroke="#111" stroke-width="1.7" stroke-linejoin="round"/>
<polygon points="1103.0,61.2 1136.0,28.200000000000003 1136.0,45.400000000000006 1103.0,78.4" fill="#a9a9be" stroke="#111" stroke-width="1.7" stroke-linejoin="round"/>
<rect x="1086.8" y="61.2" width="16.2" height="17.2" fill="#d9d9ee" stroke="#111" stroke-width="1.7"/>
<rect x="1010.5" y="43.2" width="2.6" height="2.6" fill="#000"/>
<rect x="1016.7" y="43.2" width="2.6" height="2.6" fill="#000"/>
<rect x="1022.9" y="43.2" width="2.6" height="2.6" fill="#000"/>
<rect x="1010.5" y="64.7" width="2.6" height="2.6" fill="#000"/>
<rect x="1016.7" y="64.7" width="2.6" height="2.6" fill="#000"/>
<rect x="1022.9" y="64.7" width="2.6" height="2.6" fill="#000"/>
<text x="1015.5" y="98.7" text-anchor="middle" font-family='"Liberation Serif", serif' font-weight="bold" font-size="21.5">Codebook</text>
<polygon points="904.6,151.5 937.6,118.5 954.0,118.5 921.0,151.5" fill="#f9de90" stroke="#111" stroke-width="1.7" stroke-linejoin="round"/>
<polygon points="921.0,151.5 954.0,118.5 954.0,135.5 921.0,168.5" fill="#cdaf66" stroke="#111" stroke-width="1.7" stroke-linejoin="round"/>
<rect x="904.6" y="151.5" width="16.4" height="17" fill="#f7d57c" stroke="#111" stroke-width="1.7"/>
<polyline points="959.6,133.4 1007.6,133.4 1007.6,116" fill="none" stroke="#000" stroke-width="3.4"/>
<polygon points="1007.6,106.5 1002.8,117 1012.4,117" fill="#000"/>
<polyline points="1056.4,106.4 1056.4,133 1181,133" fill="none" stroke="#000" stroke-width="3.4"/>
<polygon points="1189.4,133 1179,127.8 1179,138.2" fill="#000"/>
<text x="958" y="153.8" font-family='"Liberation Serif", serif' font-size="18.5">Look up</text>
<text x="1036" y="183.5" text-anchor="middle" font-family='"Liberation Serif", serif' font-weight="bold" font-size="21.5">LM Tokenizer</text>
<rect x="871" y="225" width="295.5" height="181" rx="30" fill="#f9f6e9" filter="url(#shb)"/>
<polyline points="853,210.5 913.4,210.5" fill="none" stroke="#000" stroke-width="3.2"/>
<line x1="913.4" y1="212" x2="913.4" y2="186" stroke="#000" stroke-width="3.2"/>
<polygon points="913.4,177 908.4,187 918.4,187" fill="#000"/>
<line x1="913.4" y1="209" x2="913.4" y2="241" stroke="#000" stroke-width="3.2"/>
<polygon points="913.4,250 908.4,240 918.4,240" fill="#000"/>
<polygon points="904.5,294.8 937.5,261.8 953.7,261.8 920.7,294.8" fill="#f9de90" stroke="#111" stroke-width="1.7" stroke-linejoin="round"/>
<polygon points="920.7,294.8 953.7,261.8 953.7,279.0 920.7,312.0" fill="#cdaf66" stroke="#111" stroke-width="1.7" stroke-linejoin="round"/>
<rect x="904.5" y="294.8" width="16.2" height="17.2" fill="#f7d57c" stroke="#111" stroke-width="1.7"/>
<line x1="960" y1="282" x2="974.7113442851235" y2="266.9383856128498" stroke="#000" stroke-width="3.2"/>
<polygon points="981.00,260.50 977.59,271.15 970.44,264.16" fill="#000"/>
<line x1="960" y1="295" x2="974.636038969321" y2="309.6360389693211" stroke="#000" stroke-width="3.2"/>
<polygon points="981.00,316.00 970.39,312.46 977.46,305.39" fill="#000"/>
<rect x="991.2" y="240" width="63.7" height="25.5" fill="#fcd8c2" filter="url(#shb)"/>
<rect x="991.2" y="300.5" width="63.7" height="25.5" fill="#fcd8c2" filter="url(#shb)"/>
<rect x="991.2" y="336.4" width="63.7" height="25.5" fill="#fcd8c2" filter="url(#shb)"/>
<text x="1023" y="260.5" text-anchor="middle" font-family='"Liberation Serif", serif' font-style="italic" font-size="21">μ</text>
<text x="1023" y="321.5" text-anchor="middle" font-family='"Liberation Serif", serif' font-style="italic" font-size="21">δ</text>
<text x="1023" y="356" text-anchor="middle" font-family='"Liberation Serif", serif' font-style="italic" font-size="21">ε</text>
<path d="M896.2 349.6 Q896.6 352.8 899.3 351.6 Q901.2 349.5 902.8 338.2" fill="none" stroke="#111" stroke-width="1.3" stroke-linecap="round"/>
<path d="M900.3 339.2 Q901.4 337.2 903.2 337.7" fill="none" stroke="#111" stroke-width="1.2" stroke-linecap="round"/>
<path d="M902.9 337.8 L910.2 351.9" fill="none" stroke="#111" stroke-width="2.5" stroke-linecap="round"/>
<path d="M910.2 351.9 L913.7 340.2 Q914.7 337 916.6 337.6" fill="none" stroke="#111" stroke-width="1.3" stroke-linecap="round"/>
<text x="918.3" y="352.3" font-family='"Liberation Serif", serif' font-size="21.5">(0, 1)</text>
<line x1="963.6" y1="346.2" x2="971.8" y2="346.2" stroke="#000" stroke-width="3.2"/>
<polygon points="980.8,346.2 970.8,341.2 970.8,351.2" fill="#000"/>
<polyline points="1055,313.4 1063.8,313.4 1063.8,348.5 1055,348.5" fill="none" stroke="#000" stroke-width="3.2"/>
<line x1="1063.8" y1="329.8" x2="1068" y2="329.8" stroke="#000" stroke-width="3.2"/>
<polygon points="1076,329.8 1067,325.3 1067,334.3" fill="#000"/>
<circle cx="1087.6" cy="329.8" r="8.4" fill="none" stroke="#000" stroke-width="1.9"/>
<line x1="1081.7" y1="323.9" x2="1093.5" y2="335.7" stroke="#000" stroke-width="1.6"/><line x1="1093.5" y1="323.9" x2="1081.7" y2="335.7" stroke="#000" stroke-width="1.6"/>
<polyline points="1055,252.2 1104.6,252.2 1104.6,329.8 1096,329.8" fill="none" stroke="#000" stroke-width="3.2"/>
<line x1="1104.6" y1="292.8" x2="1111" y2="292.8" stroke="#000" stroke-width="3.2"/>
<polygon points="1119,292.8 1110,288.3 1110,297.3" fill="#000"/>
<circle cx="1131.3" cy="292.8" r="8.3" fill="none" stroke="#000" stroke-width="1.9"/>
<line x1="1123" y1="292.8" x2="1139.6" y2="292.8" stroke="#000" stroke-width="1.6"/><line x1="1131.3" y1="284.5" x2="1131.3" y2="301.1" stroke="#000" stroke-width="1.6"/>
<line x1="1140" y1="292.8" x2="1181" y2="292.8" stroke="#000" stroke-width="3.2"/>
<polygon points="1190,292.8 1180,287.8 1180,297.8" fill="#000"/>
<text x="1034" y="390.5" text-anchor="middle" font-family='"Liberation Serif", serif' font-weight="bold" font-size="21.5">Diffusion Tokenizer</text>
</svg></body></html>
